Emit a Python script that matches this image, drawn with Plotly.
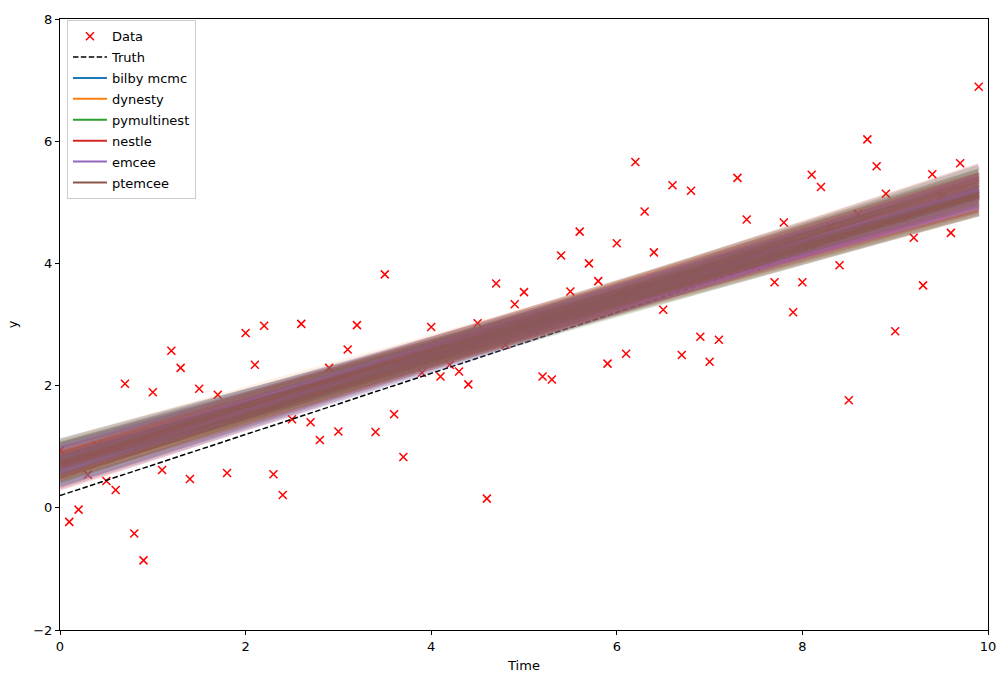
import numpy as np
import plotly.graph_objects as go

# ---- data ----
time = [0.0, 0.1, 0.2, 0.3, 0.4, 0.5, 0.6, 0.7, 0.8, 0.9,
        1.0, 1.1, 1.2, 1.3, 1.4, 1.5, 1.6, 1.7, 1.8, 1.9,
        2.0, 2.1, 2.2, 2.3, 2.4, 2.5, 2.6, 2.7, 2.8, 2.9,
        3.0, 3.1, 3.2, 3.3, 3.4, 3.5, 3.6, 3.7, 3.8, 3.9,
        4.0, 4.1, 4.2, 4.3, 4.4, 4.5, 4.6, 4.7, 4.8, 4.9,
        5.0, 5.1, 5.2, 5.3, 5.4, 5.5, 5.6, 5.7, 5.8, 5.9,
        6.0, 6.1, 6.2, 6.3, 6.4, 6.5, 6.6, 6.7, 6.8, 6.9,
        7.0, 7.1, 7.2, 7.3, 7.4, 7.5, 7.6, 7.7, 7.8, 7.9,
        8.0, 8.1, 8.2, 8.3, 8.4, 8.5, 8.6, 8.7, 8.8, 8.9,
        9.0, 9.1, 9.2, 9.3, 9.4, 9.5, 9.6, 9.7, 9.8, 9.9]

data_y = [0.94, -0.23, -0.03, 0.54, 1.02, 0.44, 0.29, 2.03, -0.42, -0.86,
          1.89, 0.62, 2.57, 2.29, 0.47, 1.95, 1.41, 1.85, 0.57, 1.66,
          2.86, 2.34, 2.98, 0.55, 0.21, 1.45, 3.01, 1.40, 1.11, 2.29,
          1.25, 2.59, 2.99, 2.21, 1.24, 3.82, 1.53, 0.83, 2.47, 2.21,
          2.96, 2.15, 2.34, 2.23, 2.02, 3.02, 0.15, 3.67, 2.67, 3.33,
          3.53, 2.91, 2.15, 2.10, 4.13, 3.54, 4.52, 4.00, 3.71, 2.36,
          4.33, 2.52, 5.66, 4.85, 4.18, 3.24, 5.28, 2.50, 5.19, 2.80,
          2.39, 2.75, 4.00, 5.40, 4.72, 3.95, 4.03, 3.69, 4.67, 3.20,
          3.69, 5.45, 5.25, 4.60, 3.97, 1.76, 4.81, 6.03, 5.59, 5.14,
          2.89, 4.72, 4.42, 3.64, 5.46, 5.09, 4.50, 5.64, 5.07, 6.89]

truth_m = 0.5
truth_c = 0.2

sampler_names = ["bilby mcmc", "dynesty", "pymultinest", "nestle", "emcee", "ptemcee"]
sampler_colors = ["#1f77b4", "#ff7f0e", "#2ca02c", "#d62728", "#9467bd", "#8c564b"]

# posterior draws (intercept c, slope m) per sampler
c_bilby = [0.779, 0.552, 0.837, 0.838, 0.601, 0.572, 0.640, 1.028, 0.446, 0.798,
           0.979, 0.636, 1.005, 0.742, 0.391, 0.797, 0.627, 0.522, 0.388, 1.092]
m_bilby = [0.441, 0.465, 0.456, 0.417, 0.489, 0.444, 0.474, 0.432, 0.501, 0.408,
           0.420, 0.453, 0.393, 0.480, 0.471, 0.447, 0.462, 0.510, 0.486, 0.402]
c_dynesty = [0.87, 0.45, 0.87, 0.87, 0.60, 0.57, 0.66, 1.08, 0.36, 0.84,
             0.90, 0.60, 0.87, 0.66, 0.54, 0.87, 0.75, 0.63, 0.75, 0.69]
m_dynesty = [0.432, 0.474, 0.456, 0.414, 0.492, 0.438, 0.468, 0.426, 0.504, 0.402,
             0.444, 0.462, 0.420, 0.486, 0.450, 0.462, 0.438, 0.480, 0.426, 0.456]
c_pymultinest = [0.69, 0.93, 0.39, 0.51, 1.02, 0.57, 0.78, 0.78, 0.60, 1.02,
                 0.57, 0.72, 0.81, 0.78, 0.75, 0.60, 0.81, 0.48, 0.60, 1.05]
m_pymultinest = [0.444, 0.432, 0.480, 0.498, 0.408, 0.456, 0.474, 0.438, 0.468, 0.420,
                 0.432, 0.462, 0.414, 0.444, 0.486, 0.444, 0.450, 0.486, 0.474, 0.396]
c_nestle = [0.87, 0.57, 0.78, 0.87, 0.54, 0.48, 0.87, 0.66, 0.69, 0.78,
            0.54, 1.02, 0.72, 0.69, 0.69, 0.93, 0.33, 0.75, 0.69, 0.96]
m_nestle = [0.426, 0.462, 0.468, 0.408, 0.486, 0.456, 0.438, 0.498, 0.432, 0.450,
            0.480, 0.414, 0.420, 0.462, 0.444, 0.456, 0.492, 0.444, 0.474, 0.396]
c_emcee = [0.72, 0.57, 0.84, 0.60, 0.72, 0.81, 0.78, 0.57, 0.60, 0.99,
           0.63, 0.96, 0.81, 0.39, 0.66, 0.84, 0.84, 1.02, 0.66, 0.36]
m_emcee = [0.450, 0.468, 0.444, 0.480, 0.426, 0.462, 0.432, 0.492, 0.438, 0.420,
           0.450, 0.408, 0.468, 0.486, 0.462, 0.438, 0.414, 0.432, 0.456, 0.474]
c_ptemcee = [0.72, 0.69, 0.72, 0.84, 0.90, 0.48, 0.96, 0.51, 0.66, 0.75,
             0.66, 1.08, 0.45, 0.81, 0.45, 0.87, 0.81, 0.60, 0.51, 0.72]
m_ptemcee = [0.456, 0.438, 0.474, 0.420, 0.426, 0.468, 0.438, 0.492, 0.450, 0.462,
             0.420, 0.408, 0.480, 0.438, 0.498, 0.468, 0.432, 0.456, 0.504, 0.414]

posterior_c = [c_bilby, c_dynesty, c_pymultinest, c_nestle, c_emcee, c_ptemcee]
posterior_m = [m_bilby, m_dynesty, m_pymultinest, m_nestle, m_emcee, m_ptemcee]

FONT = "DejaVu Sans"

def rgba(hexcol, a):
    h = hexcol.lstrip("#")
    r, g, b = int(h[0:2], 16), int(h[2:4], 16), int(h[4:6], 16)
    return f"rgba({r},{g},{b},{a})"

t = np.array(time)
fig = go.Figure()

fig.add_trace(go.Scatter(
    x=time, y=data_y, mode="markers", name="Data", legendgroup="g0",
    marker=dict(symbol="x-thin", size=8, color="red",
                line=dict(color="red", width=1.5)),
))
fig.add_trace(go.Scatter(
    x=time, y=truth_m * t + truth_c, mode="lines", name="Truth", legendgroup="g1",
    line=dict(color="black", width=1.5, dash="5.5px,2.4px"),
))
# legend entries for samplers
for k, (name, col) in enumerate(zip(sampler_names, sampler_colors)):
    fig.add_trace(go.Scatter(x=[None], y=[None], mode="lines", name=name,
                             legendgroup=f"s{k}",
                             line=dict(color=col, width=2)))
# posterior draws
alphas = [0.14, 0.12, 0.13, 0.2, 0.24, 0.24]
tx = np.array([time[0], time[-1]])
for cs, ms, col, a in zip(posterior_c, posterior_m, sampler_colors, alphas):
    for c, m in zip(cs, ms):
        fig.add_trace(go.Scatter(
            x=tx, y=c + m * tx, mode="lines", showlegend=False, hoverinfo="skip",
            line=dict(color=rgba(col, a), width=6),
        ))

axis_common = dict(
    showline=True, linecolor="black", linewidth=1, mirror=True,
    ticks="outside", ticklen=4, tickwidth=1, tickcolor="black",
    showgrid=False, zeroline=False,
    tickfont=dict(family=FONT, size=13, color="black"),
)
fig.update_xaxes(range=[0, 10], tickvals=[0, 2, 4, 6, 8, 10],
                 title=dict(text="Time", font=dict(family=FONT, size=13, color="black"), standoff=8),
                 **axis_common)
fig.update_yaxes(range=[-2, 8], tickvals=[-2, 0, 2, 4, 6, 8],
                 title=dict(text="y", font=dict(family=FONT, size=13, color="black"), standoff=12),
                 **axis_common)

fig.update_layout(
    width=1008, height=684,
    margin=dict(l=60, r=18, t=15, b=54),
    paper_bgcolor="white", plot_bgcolor="white",
    font=dict(family=FONT, size=13, color="black"),
    legend=dict(x=0.0075, y=0.998, xanchor="left", yanchor="top",
                bgcolor="rgba(255,255,255,0.8)", bordercolor="#cccccc", borderwidth=1,
                font=dict(family=FONT, size=13, color="black"), itemwidth=34,
                tracegroupgap=1),
    showlegend=True,
)

fig.write_html("out.html")
